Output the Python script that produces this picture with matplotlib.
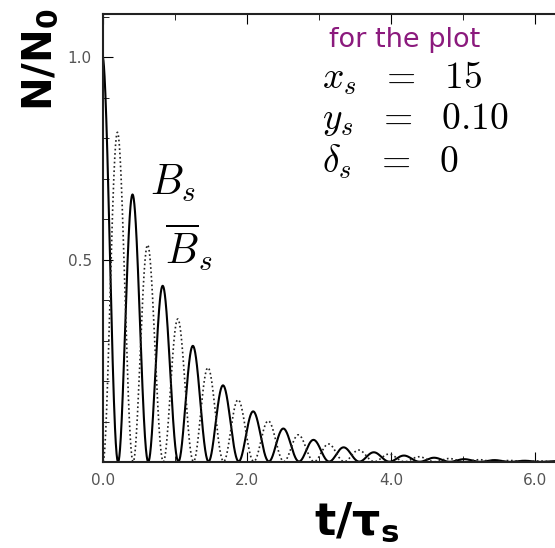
import numpy as np
import matplotlib
matplotlib.use("Agg")
import matplotlib.pyplot as plt
from matplotlib.ticker import MultipleLocator

plt.rcParams['mathtext.fontset'] = 'cm'

# parameters shown in the chart
x_s = 15
y_s = 0.10
delta_s = 0
t = np.linspace(0, 6.5, 3000)

xticks = [0.0, 2.0, 4.0, 6.0]
xticklabels = ['0.0', '2.0', '4.0', '6.0']
yticks = [0.5, 1.0]
yticklabels = ['0.5', '1.0']

# unmixed / mixed decay rates (t in units of tau_s)
n_b = np.exp(-t) * (np.cosh(y_s * t) + np.cos(x_s * t + delta_s)) / 2
n_bbar = np.exp(-t) * (np.cosh(y_s * t) - np.cos(x_s * t + delta_s)) / 2

fig = plt.figure(figsize=(5.55, 5.48), dpi=100)
ax = fig.add_axes([103/555, 86/548, 6.5*72/555, 448/548])

ax.plot(t, n_b, c='black', lw=1.5)
ax.plot(t, n_bbar, c='#222222', lw=1.2, ls=(0, (1, 1.6)))

ax.set_xlim(0, 6.5)
ax.set_ylim(0, 1.107)
ax.set_xticks(xticks)
ax.set_xticklabels(xticklabels)
ax.set_yticks(yticks)
ax.set_yticklabels(yticklabels)
ax.xaxis.set_minor_locator(MultipleLocator(1.0))
ax.yaxis.set_minor_locator(MultipleLocator(0.1))
ax.tick_params(which='both', direction='in', top=True, labelsize=11,
               labelcolor='#555555', pad=8)
ax.tick_params(which='major', length=7)
ax.tick_params(which='minor', length=4)
for s in ax.spines.values():
    s.set_linewidth(1.5)
    s.set_color('#222222')

ax.text(0.65, 0.66, r'$B_s$', fontsize=30)
ax.text(0.86, 0.49, r'$\overline{B}_s$', fontsize=30)

fig.text(329/555, 1 - 40/548, 'for the plot', color='#8b1a7d', fontsize=19.5,
         va='center')
fig.text(322/555, 1 - 78/548, r'$x_s\ \ =\ \ 15$', fontsize=27, va='center')
fig.text(322/555, 1 - 120/548, r'$y_s\ \ =\ \ 0.10$', fontsize=27, va='center')
fig.text(322/555, 1 - 162/548, r'$\delta_s\ \ =\ \ 0$', fontsize=27, va='center')

fig.text(40/555, 1 - 60/548, r'N/N$_\mathbf{0}$', rotation=90, fontsize=29,
         fontweight='bold', ha='center', va='center', math_fontfamily='dejavusans')
fig.text(357/555, 1 - 522/548, r't/τ$_\mathbf{s}$', fontsize=32,
         fontweight='bold', ha='center', va='center', math_fontfamily='dejavusans')

fig.savefig('out.png', dpi=100)
